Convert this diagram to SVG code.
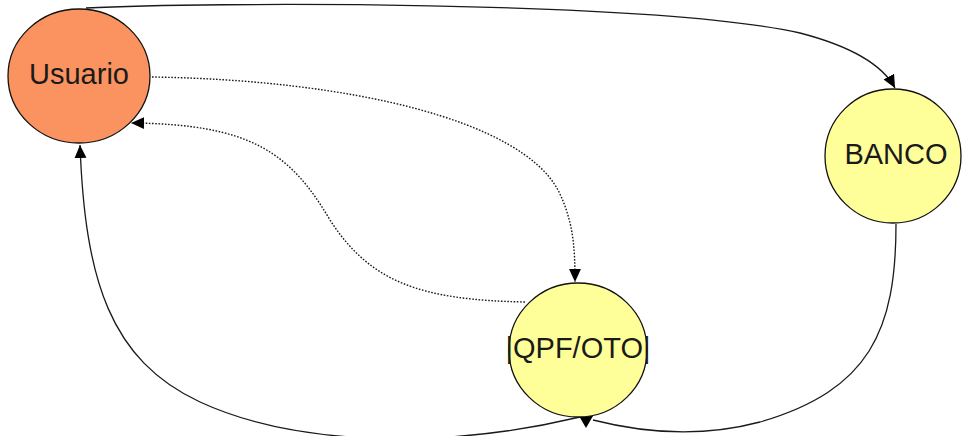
<svg xmlns="http://www.w3.org/2000/svg" width="962" height="436" viewBox="0 0 962 436">
<style>
.node ellipse{stroke:#111;stroke-width:1.3}
.lbl{font-family:"Liberation Sans",Arial,sans-serif;font-size:29px;fill:#1a1a1a;text-anchor:middle}
.edge{fill:none;stroke:#1a1a1a;stroke-width:1.3}
.dot{stroke-dasharray:1.6 1.6;stroke-width:1.4}
</style>
<defs>
<marker id="ah" viewBox="0 0 12 12" refX="12" refY="6" markerWidth="13" markerHeight="13" markerUnits="userSpaceOnUse" orient="auto">
<path d="M0,0.5 L12,6 L0,11.5 z" fill="#000"/>
</marker>
</defs>
<rect width="962" height="436" fill="#fff"/>
<g id="connectors">
<path class="edge" d="M86,8 C200,2 650,0 800,33 C850,46 882,64 895,88" marker-end="url(#ah)"/>
<path class="edge dot" d="M152,77 C350,80 520,120 558,190 C574,222 575,250 575,282" marker-end="url(#ah)"/>
<path class="edge dot" d="M525,302 C420,300 370,282 330,220 C290,152 250,124 131,123" marker-end="url(#ah)"/>
<path class="edge" d="M580,417 C450,448 300,448 200,402 C110,360 85,280 80,145" marker-end="url(#ah)"/>
<path class="edge" d="M896,224 C896,330 870,390 760,422 C700,438 640,432 593,420"/>
<polygon points="579,416 593,416 586,428" fill="#000"/>
</g>
<g id="usuario" class="node">
<ellipse cx="79" cy="76" rx="71" ry="67" fill="#FA935F"/>
<text class="lbl" x="79" y="84">Usuario</text>
</g>
<g id="banco" class="node">
<ellipse cx="893" cy="156" rx="68" ry="67" fill="#FFFF99"/>
<text class="lbl" x="896" y="164">BANCO</text>
</g>
<g id="qpf" class="node">
<ellipse cx="578" cy="350" rx="69" ry="67" fill="#FFFF99"/>
<text class="lbl" x="578" y="358">|QPF/OTO|</text>
</g>
</svg>
